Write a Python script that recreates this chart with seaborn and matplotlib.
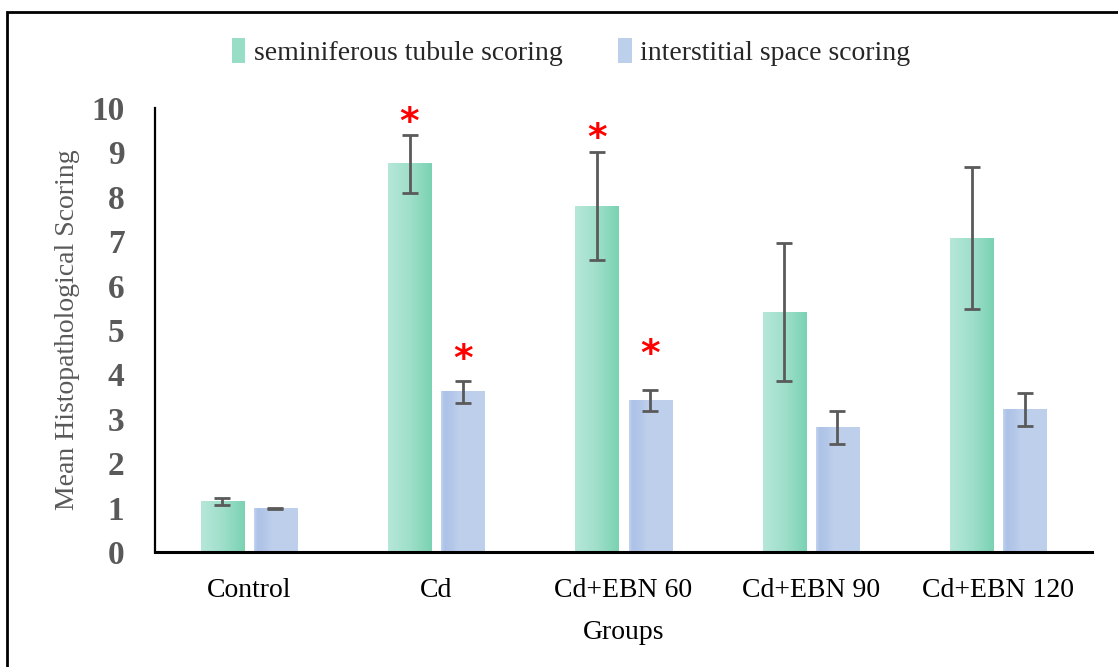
import numpy as np
import pandas as pd
import matplotlib
matplotlib.use("Agg")
import matplotlib.pyplot as plt
import seaborn as sns
from matplotlib.colors import LinearSegmentedColormap
from matplotlib.patches import Patch, Rectangle

groups = ["Control", "Cd", "Cd+EBN 60", "Cd+EBN 90", "Cd+EBN 120"]
series = ["seminiferous tubule scoring", "interstitial space scoring"]
st_mean = [1.14, 8.74, 7.79, 5.40, 7.07]
st_err = [0.08, 0.65, 1.21, 1.55, 1.60]
is_mean = [0.98, 3.61, 3.41, 2.80, 3.20]
is_err = [0.01, 0.25, 0.24, 0.37, 0.37]
# significance stars: (group index, series index, y position)
star_group = [1, 1, 2, 2]
star_series = [0, 1, 0, 1]
star_y = [9.66, 4.32, 9.30, 4.44]
yticks = [0, 1, 2, 3, 4, 5, 6, 7, 8, 9, 10]

sns.set_theme(style="white")
plt.rcParams["font.family"] = ["Liberation Serif", "DejaVu Serif"]

df = pd.DataFrame({
    "Group": groups * 2,
    "Series": [series[0]] * len(groups) + [series[1]] * len(groups),
    "Value": st_mean + is_mean,
})

green_c = "#98ddc6"
blue_c = "#bccfeb"

fig = plt.figure(figsize=(11.18, 6.67), dpi=100)
ax = fig.add_axes([155 / 1118, 1 - 552 / 667, (1092 - 155) / 1118, (552 - 108) / 667])

sns.barplot(data=df, x="Group", y="Value", hue="Series", order=groups,
            hue_order=series, palette=[green_c, blue_c], errorbar=None,
            width=0.567, gap=0.19, ax=ax, legend=False, saturation=1)

ax.set_ylim(0, 10)
ax.set_xlim(-0.5, len(groups) - 0.5)

# gradients on bars
green_cmap = LinearSegmentedColormap.from_list("g", ["#b6e7d9", "#9fdfca", "#7ad2b3"])
blue_cmap = LinearSegmentedColormap.from_list(
    "b", [(0, "#c3d3ee"), (0.08, "#adc2e7"), (0.25, "#b3c7e9"), (0.4, "#bdcfeb"), (1, "#bfd0ec")])
grad = np.linspace(0, 1, 256).reshape(1, -1)
patches = list(ax.patches)
n = len(groups)
centers = {}
for i, p in enumerate(patches):
    s = i // n
    g = i % n
    x0 = p.get_x()
    w = p.get_width()
    h = p.get_height()
    centers[(g, s)] = x0 + w / 2
    cmap = green_cmap if s == 0 else blue_cmap
    ax.imshow(grad, cmap=cmap, aspect="auto", extent=(x0, x0 + w, 0, h),
              zorder=1.5, interpolation="bilinear")
ax.set_ylim(0, 10)
ax.set_xlim(-0.5, len(groups) - 0.5)

# error bars
for s, (means, errs) in enumerate([(st_mean, st_err), (is_mean, is_err)]):
    xs = [centers[(g, s)] for g in range(n)]
    ax.errorbar(xs, means, yerr=errs, fmt="none", ecolor="#5a5a5a",
                elinewidth=2, capsize=6, capthick=2, zorder=3)

# stars
for g, s, y in zip(star_group, star_series, star_y):
    ax.text(centers[(g, s)], y, "*", color="red", fontsize=27, fontweight="bold",
            ha="center", va="center", zorder=4, family=["DejaVu Sans"])

ax.set_yticks(yticks)
ax.set_yticklabels([str(t) for t in yticks], fontsize=24, fontweight="bold", color="#595959")
ax.tick_params(axis="y", length=0, pad=22)
ax.tick_params(axis="x", length=0, pad=19, labelsize=20, labelcolor="black")
ax.set_xlabel("Groups", fontsize=20, color="black", labelpad=12)
ax.set_ylabel("Mean Histopathological Scoring", fontsize=20, color="#595959", labelpad=8)

for side in ["top", "right"]:
    ax.spines[side].set_visible(False)
ax.spines["left"].set_color("black")
ax.spines["left"].set_linewidth(1.6)
ax.spines["bottom"].set_color("black")
ax.spines["bottom"].set_linewidth(2.2)

handles = [Patch(facecolor=green_c, edgecolor="none"), Patch(facecolor=blue_c, edgecolor="none")]
fig.legend(handles, series, loc="center", bbox_to_anchor=(571 / 1118, 1 - 52 / 667),
           ncol=2, frameon=False, fontsize=20, handlelength=0.5, handleheight=1.0,
           handletextpad=0.3, columnspacing=2.0)

# outer frame (top and left visible)
fig.patches.append(Rectangle((7 / 1118, -0.1), 1.2, (1 - 12 / 667) + 0.1,
                             transform=fig.transFigure, fill=False,
                             edgecolor="black", linewidth=2, zorder=10))

fig.savefig("out.png", dpi=100)
